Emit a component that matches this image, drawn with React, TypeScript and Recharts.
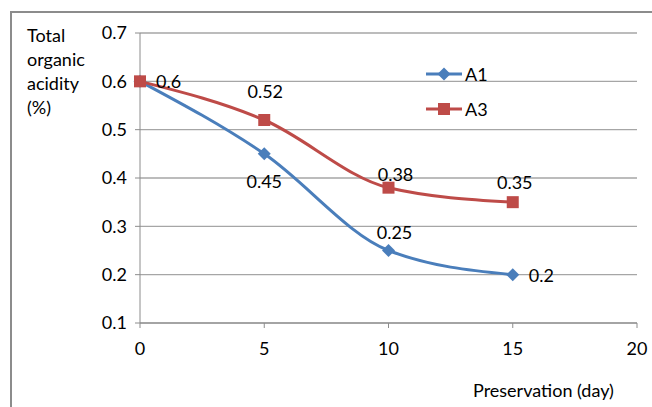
import React from "react";
import { LineChart, Line, XAxis, YAxis, CartesianGrid, Legend } from "recharts";

const days = [0, 5, 10, 15];
const a1 = [0.6, 0.45, 0.25, 0.2];
const a3 = [0.6, 0.52, 0.38, 0.35];
const xTicks = [0, 5, 10, 15, 20];
const yTicks = [0.1, 0.2, 0.3, 0.4, 0.5, 0.6, 0.7];

const BLUE = "#4A7EBB";
const RED = "#BE4B48";
const FONT = "Lato, 'Open Sans', sans-serif";
const FS = 18;

const data = days.map((d, i) => ({ day: d, A1: a1[i], A3: a3[i] }));

// where each data label sits relative to its point
const a1Place: ([number, number, string] | null)[] = [
  null,
  [0, 27, "middle"],
  [6, -19, "middle"],
  [16, 0, "start"],
];
const a3Place: ([number, number, string] | null)[] = [
  [16, 0, "start"],
  [1, -29, "middle"],
  [7, -14, "middle"],
  [2, -20, "middle"],
];

const makeLabel = (place: typeof a1Place) => (props: any) => {
  const { x, y, value, index } = props;
  const p = place[index];
  if (!p) return null;
  return (
    <text
      x={x + p[0]}
      y={y + p[1]}
      textAnchor={p[2] as any}
      dominantBaseline="central"
      fontSize={FS}
      fontFamily={FONT}
      fill="#000"
    >
      {value}
    </text>
  );
};

const Diamond = ({ cx, cy, color }: { cx: number; cy: number; color: string }) => (
  <path
    d={`M${cx},${cy - 6.5}L${cx + 6.5},${cy}L${cx},${cy + 6.5}L${cx - 6.5},${cy}Z`}
    fill={color}
  />
);

const Square = ({ cx, cy, color }: { cx: number; cy: number; color: string }) => (
  <rect x={cx - 6} y={cy - 6} width={12} height={12} fill={color} />
);

const LegendBox = () => (
  <div style={{ fontFamily: FONT, fontSize: FS, color: "#000" }}>
    {[
      { name: "A1", color: BLUE, shape: "d" },
      { name: "A3", color: RED, shape: "s" },
    ].map((it) => (
      <div key={it.name} style={{ display: "flex", alignItems: "center", height: 35 }}>
        <svg width={38} height={16}>
          <line x1={1} y1={8} x2={37} y2={8} stroke={it.color} strokeWidth={3} />
          {it.shape === "d" ? (
            <Diamond cx={19} cy={8} color={it.color} />
          ) : (
            <Square cx={19} cy={8} color={it.color} />
          )}
        </svg>
        <span style={{ marginLeft: 2 }}>{it.name}</span>
      </div>
    ))}
  </div>
);

const tickStyle = { fontSize: FS, fontFamily: FONT, fill: "#000" };

export default function App() {
  return (
    <div
      style={{
        position: "absolute",
        left: 0,
        top: 0,
        width: 652,
        height: 407,
        background: "#fff",
        overflow: "hidden",
      }}
    >
      <div
        style={{
          position: "absolute",
          left: 10,
          top: 11,
          width: 700,
          height: 420,
          borderLeft: "2px solid #8c8c8c",
          borderTop: "2px solid #8c8c8c",
        }}
      />
      <div
        style={{
          position: "absolute",
          left: 27,
          top: 23,
          fontFamily: FONT,
          fontSize: FS,
          lineHeight: "24px",
          color: "#000",
        }}
      >
        Total
        <br />
        organic
        <br />
        acidity
        <br />
        (%)
      </div>
      <div
        style={{
          position: "absolute",
          left: 473,
          top: 379,
          fontFamily: FONT,
          fontSize: FS,
          color: "#000",
        }}
      >
        Preservation (day)
      </div>
      <div style={{ position: "absolute", left: 0, top: 0 }}>
        <LineChart
          width={652}
          height={407}
          data={data}
          margin={{ top: 33, right: 15, bottom: 54, left: 100 }}
        >
          <CartesianGrid vertical={false} stroke="#a6a6a6" strokeWidth={1.3} />
          <XAxis
            dataKey="day"
            type="number"
            domain={[0, 20]}
            ticks={xTicks}
            interval={0}
            height={30}
            tick={tickStyle}
            tickSize={5}
            tickMargin={14}
            stroke="#8c8c8c"
          />
          <YAxis
            type="number"
            domain={[0.1, 0.7]}
            ticks={yTicks}
            interval={0}
            width={40}
            tick={tickStyle}
            tickSize={5}
            tickMargin={8}
            stroke="#8c8c8c"
            tickFormatter={(v: number) => v.toFixed(1)}
          />
          <Legend
            layout="vertical"
            align="center"
            verticalAlign="middle"
            content={<LegendBox />}
            wrapperStyle={{ position: "absolute", left: 425, top: 56, width: 80 }}
          />
          <Line
            type="monotone"
            dataKey="A1"
            stroke={BLUE}
            strokeWidth={3}
            isAnimationActive={false}
            dot={(p: any) => <Diamond key={`a1-${p.index}`} cx={p.cx} cy={p.cy} color={BLUE} />}
            activeDot={false}
            label={makeLabel(a1Place)}
          />
          <Line
            type="monotone"
            dataKey="A3"
            stroke={RED}
            strokeWidth={3}
            isAnimationActive={false}
            dot={(p: any) => <Square key={`a3-${p.index}`} cx={p.cx} cy={p.cy} color={RED} />}
            activeDot={false}
            label={makeLabel(a3Place)}
          />
        </LineChart>
      </div>
    </div>
  );
}
